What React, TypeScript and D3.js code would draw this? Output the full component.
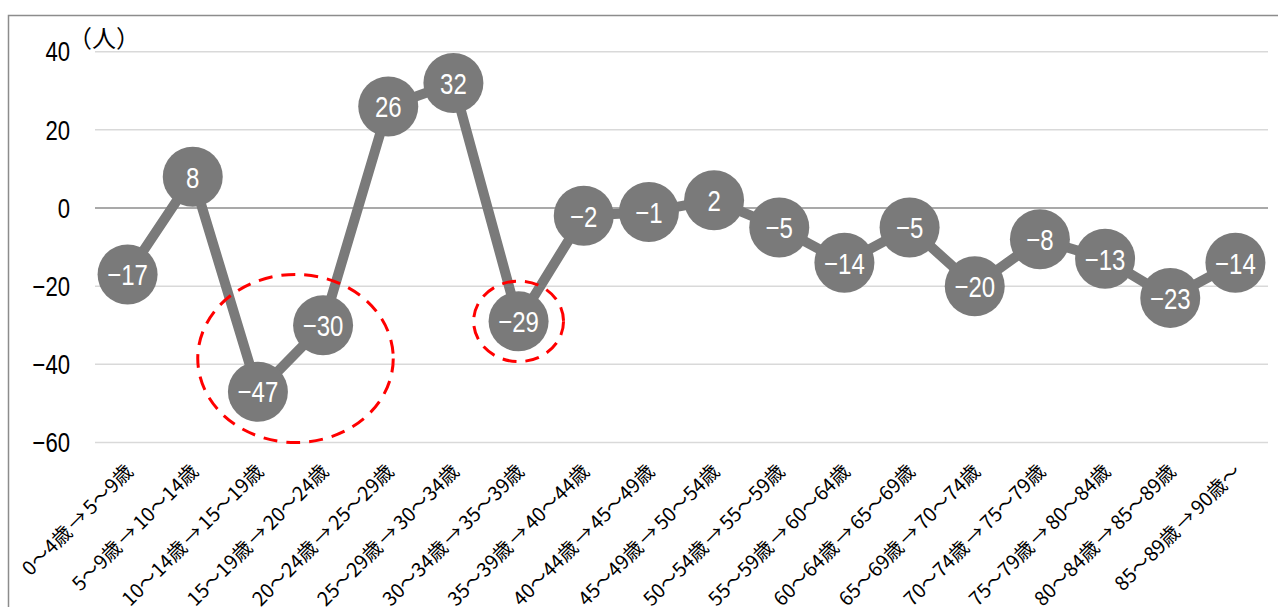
import React from "react";
import * as d3 from "d3";

const categories: string[] = [
  "0～4歳→5～9歳",
  "5～9歳→10～14歳",
  "10～14歳→15～19歳",
  "15～19歳→20～24歳",
  "20～24歳→25～29歳",
  "25～29歳→30～34歳",
  "30～34歳→35～39歳",
  "35～39歳→40～44歳",
  "40～44歳→45～49歳",
  "45～49歳→50～54歳",
  "50～54歳→55～59歳",
  "55～59歳→60～64歳",
  "60～64歳→65～69歳",
  "65～69歳→70～74歳",
  "70～74歳→75～79歳",
  "75～79歳→80～84歳",
  "80～84歳→85～89歳",
  "85～89歳→90歳～",
];

const values: number[] = [-17, 8, -47, -30, 26, 32, -29, -2, -1, 2, -5, -14, -5, -20, -8, -13, -23, -14];

const yTicks: number[] = [40, 20, 0, -20, -40, -60];

const unitLabel = "（人）";

// highlight ellipses: category index range, center value, radii in category steps / value units
const highlights = [
  { from: 2, to: 3, value: -38.5, rxSteps: 1.5, ryValue: 21.5 },
  { from: 6, to: 6, value: -29, rxSteps: 0.69, ryValue: 10.3 },
];

const W = 1278;
const H = 607;
const NUM_FONT = "'Liberation Sans', Arial, sans-serif";
const CJK_FONT = "'Noto Sans CJK JP', sans-serif";
const fmt = (v: number) => (v < 0 ? "\u2212" + Math.abs(v) : String(v));

function renderLabel(c: string) {
  const parts = c.split("→");
  return (
    <>
      <tspan>{parts[0]}</tspan>
      <tspan dx={3}>→</tspan>
      <tspan dx={3}>{parts[1]}</tspan>
    </>
  );
}

export default function App() {
  const x = d3.scaleBand<string>().domain(categories).range([95, 1268]).padding(0);
  const y = d3.scaleLinear().domain([-60, 40]).range([442.5, 51.7]);
  const cx = (i: number) => (x(categories[i]) as number) + x.bandwidth() / 2;

  const line = d3
    .line<number>()
    .x((_, i) => cx(i))
    .y((d) => y(d));

  const color = "#7a7a7a";

  return (
    <svg
      width={W}
      height={H}
      style={{ position: "absolute", left: 0, top: 0, display: "block", background: "#fff" }}
    >
      <rect x={8.5} y={15.5} width={1300} height={700} fill="#fff" stroke="#8c8c8c" strokeWidth={1.5} />
      {yTicks.map((t) => (
        <g key={t}>
          <line
            x1={95}
            x2={1268}
            y1={y(t)}
            y2={y(t)}
            stroke={t === 0 ? "#8c8c8c" : "#d9d9d9"}
            strokeWidth={1.5}
          />
          <text
            transform={`translate(70,${y(t)}) scale(0.82,1)`}
            dy="0.36em"
            textAnchor="end"
            fontFamily={NUM_FONT}
            fontSize={27}
            fill="#000"
          >
            {fmt(t)}
          </text>
        </g>
      ))}
      <text x={68} y={39} dy="0.35em" fontFamily={CJK_FONT} fontSize={24} fill="#000">
        {unitLabel}
      </text>
      {categories.map((c, i) => (
        <text
          key={c}
          transform={`translate(${cx(i) + 2},${468}) rotate(-45)`}
          textAnchor="end"
          dy="0.35em"
          fontFamily={CJK_FONT}
          fontSize={19.5}
          fill="#000"
        >
          {renderLabel(c)}
        </text>
      ))}
      <path d={line(values) as string} fill="none" stroke={color} strokeWidth={10} strokeLinejoin="round" />
      {values.map((v, i) => (
        <g key={i}>
          <circle cx={cx(i)} cy={y(v)} r={30} fill={color} />
          <text
            transform={`translate(${cx(i)},${y(v)}) scale(0.8,1)`}
            dy="0.36em"
            textAnchor="middle"
            fontFamily={NUM_FONT}
            fontSize={30}
            fill="#fff"
          >
            {fmt(v)}
          </text>
        </g>
      ))}
      {highlights.map((h, k) => {
        const centerX = (cx(h.from) + cx(h.to)) / 2 + (h.from === h.to ? 0 : 5);
        return (
          <ellipse
            key={k}
            cx={centerX}
            cy={y(h.value)}
            rx={h.rxSteps * x.step()}
            ry={y(0) - y(h.ryValue)}
            fill="none"
            stroke="#ff0000"
            strokeWidth={3}
            strokeDasharray="14 9"
          />
        );
      })}
    </svg>
  );
}
